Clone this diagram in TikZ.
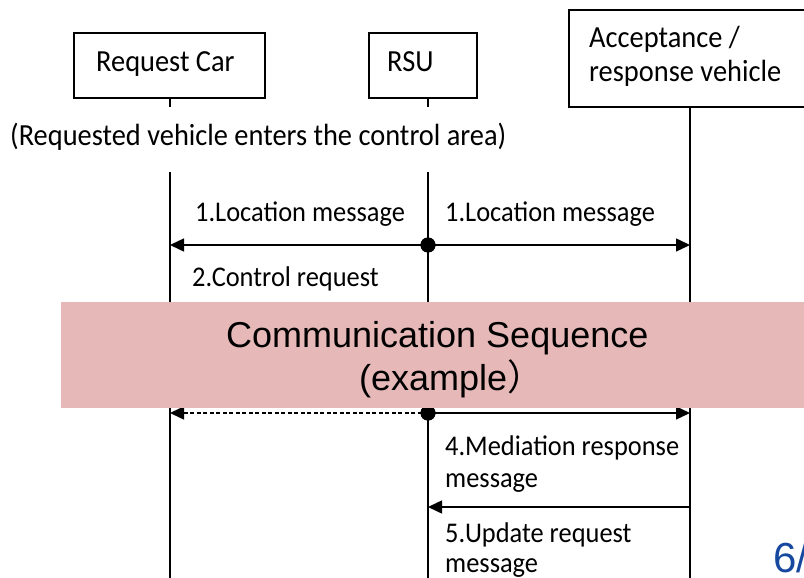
\documentclass[tikz,border=0pt]{standalone}
\usepackage{fontspec}
\setmainfont{Carlito}
\newfontfamily\arialfont{Liberation Sans}
\newfontfamily\cjkfont{Noto Sans CJK JP}
\usetikzlibrary{arrows.meta}
\definecolor{bandpink}{RGB}{230,184,183}
\definecolor{pageblue}{RGB}{22,72,160}
\newcommand{\tall}[1]{\scalebox{1}[1.08]{#1}}

\begin{document}
\begin{tikzpicture}[x=1pt,y=-1pt,
  actor/.style={draw, line width=2.4pt, fill=white, inner sep=0pt},
  lifeline/.style={line width=1.8pt},
  msg/.style={line width=1.5pt, -{Triangle[length=14pt,width=13pt]}},
  dashmsg/.style={msg, dash pattern=on 4pt off 2.5pt},
  dotnode/.style={circle, fill=black, minimum size=15pt, inner sep=0pt},
  boxlabel/.style={anchor=base west, inner sep=0pt, font=\fontsize{28.4}{32}\selectfont},
  msglabel/.style={anchor=base west, inner sep=0pt, font=\fontsize{26.4}{30}\selectfont},
  bandtext/.style={anchor=base west, inner sep=0pt, font=\arialfont\fontsize{36}{40}\selectfont}
]
\useasboundingbox (0,0) rectangle (804,578);

% participant boxes
\node[actor, anchor=north west, minimum width=191pt, minimum height=65pt] (rc) at (73,32) {};
\node[actor, anchor=north west, minimum width=108pt, minimum height=65pt] (rsu) at (368,32) {};
\node[actor, anchor=north west, minimum width=250pt, minimum height=97pt] (acc) at (568,9) {};

\node[boxlabel] (rcText) at (96,72) {\tall{Request Car}};
\node[boxlabel] (rsuText) at (387,72) {\tall{RSU}};
\node[boxlabel] (accText1) at (589,48) {\tall{Acceptance /}};
\node[boxlabel] (accText2) at (589,82) {\tall{response vehicle}};

% lifeline end points
\coordinate (rcTop) at (170,97);  \coordinate (rcGap) at (170,107);
\coordinate (rcRes) at (170,172); \coordinate (rcEnd) at (170,590);
\coordinate (rsuTop) at (428,97);  \coordinate (rsuGap) at (428,107);
\coordinate (rsuRes) at (428,172); \coordinate (rsuEnd) at (428,590);
\coordinate (accTop) at (690,106); \coordinate (accEnd) at (690,590);

\draw[lifeline] (rcTop) -- (rcGap);
\draw[lifeline] (rcRes) -- (rcEnd);
\draw[lifeline] (rsuTop) -- (rsuGap);
\draw[lifeline] (rsuRes) -- (rsuEnd);
\draw[lifeline] (accTop) -- (accEnd);

\node[boxlabel] (entry) at (10,146) {\tall{(Requested vehicle enters the control area)}};

% 1. location message, broadcast from the RSU
\coordinate (rc1) at (170,245);
\coordinate (acc1) at (690,245);
\node[dotnode] (d1) at (428,245) {};
\draw[msg] (d1.center) -- (rc1);
\draw[msg] (d1.center) -- (acc1);
\node[dotnode] at (d1) {};
\node[msglabel] (m1a) at (195,221) {\tall{1.Location message}};
\node[msglabel] (m1b) at (445,221) {\tall{1.Location message}};

\node[msglabel] (m2) at (192,286) {\tall{2.Control request}};

% 3. messages from the RSU
\coordinate (rc3) at (170,413);
\coordinate (acc3) at (690,413);
\node[dotnode] (d3) at (428,413) {};
\draw[dashmsg] (d3.center) -- (rc3);
\draw[msg] (d3.center) -- (acc3);
\node[dotnode] at (d3) {};

% 4. mediation response
\coordinate (acc4) at (690,507);
\coordinate (rsu4) at (428,507);
\draw[msg] (acc4) -- (rsu4);
\node[msglabel] (m4a) at (445,455) {\tall{4.Mediation response}};
\node[msglabel] (m4b) at (445,487) {\tall{message}};

\node[msglabel] (m5a) at (445,542) {\tall{5.Update request}};
\node[msglabel] (m5b) at (445,572) {\tall{message}};

% title band laid over the sequence
\node[fill=bandpink, anchor=north west, minimum width=760pt, minimum height=106pt, inner sep=0pt] (band) at (61,302) {};
\node[bandtext] (title1) at (226,347) {Communication Sequence};
\node[bandtext] (title2) at (359,390) {(example{\cjkfont ）}};

\node[anchor=base west, inner sep=0pt, text=pageblue, font=\arialfont\fontsize{42}{46}\selectfont] (page) at (773,572) {6/};
\end{tikzpicture}
\end{document}
